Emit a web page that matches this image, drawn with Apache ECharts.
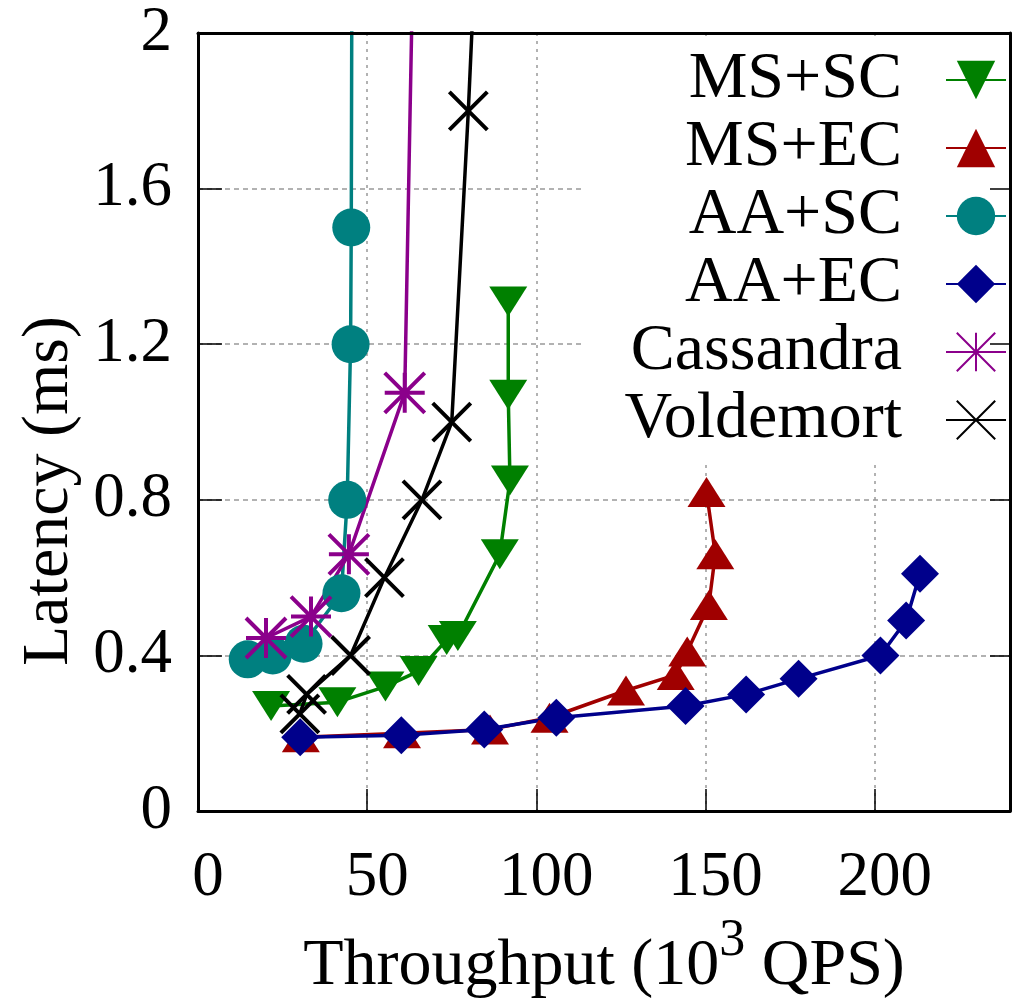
<!DOCTYPE html>
<html lang="en">

<head>
    <meta charset="UTF-8">
    <title>Latency vs Throughput</title>
    <style>
        body { margin: 0; background: #fff; }
    </style>
</head>

<body>
    <div id="main" style="width: 1013px;height:1005px;"></div>
    <script src="https://cdn.jsdelivr.net/npm/echarts@6.0.0/dist/echarts.min.js"></script>
    <script>
        // values: throughput (10^3 QPS) and latency (ms)
        var msScX = [21.6, 41.2, 55.4, 65.2, 73.5, 76.8, 89.2, 92.2, 91.7, 91.7];
        var msScY = [0.27, 0.28, 0.32, 0.36, 0.44, 0.45, 0.66, 0.85, 1.07, 1.31];

        var msEcX = [30.4, 60.3, 86.3, 103.9, 126.5, 141.2, 144.6, 151.0, 152.9, 150.3];
        var msEcY = [0.19, 0.20, 0.21, 0.24, 0.31, 0.35, 0.41, 0.53, 0.66, 0.82];

        var aaScX = [14.7, 22.1, 31.2, 42.4, 44.1, 45.1, 45.3, 45.6];
        var aaScY = [0.39, 0.40, 0.43, 0.56, 0.80, 1.20, 1.50, 2.6];

        var aaEcX = [30.2, 60.1, 84.6, 105.9, 144.1, 162.0, 177.5, 201.7, 209.3, 213.4];
        var aaEcY = [0.19, 0.195, 0.21, 0.24, 0.27, 0.30, 0.34, 0.40, 0.49, 0.61];

        var cassX = [20.1, 33.4, 44.6, 61.1, 64.0];
        var cassY = [0.445, 0.50, 0.66, 1.075, 2.4];

        var voldX = [30.1, 32.1, 45.1, 55.1, 66.2, 75.0, 79.9, 83.0];
        var voldY = [0.25, 0.30, 0.40, 0.60, 0.80, 1.00, 1.80, 2.4];

        var xTicks = [0, 50, 100, 150, 200];
        var yTicks = [0, 0.4, 0.8, 1.2, 1.6, 2];

        var font = "'Liberation Serif', 'Times New Roman', serif";
        var crossPath = 'path://M0,0L10,10M10,0L0,10';
        var starPath = 'path://M5,0L5,10M0,5L10,5M0,0L10,10M10,0L0,10';

        function zip(xs, ys) {
            return xs.map(function (x, i) { return [x, ys[i]]; });
        }

        function makeSeries(name, xs, ys, color, symbol, size, rotate, stroked) {
            return {
                name: name,
                type: 'line',
                data: zip(xs, ys),
                symbol: symbol,
                symbolSize: size,
                symbolRotate: rotate,
                showAllSymbol: true,
                clip: true,
                lineStyle: { color: color, width: 3.5 },
                itemStyle: {
                    color: stroked ? 'transparent' : color,
                    borderColor: color,
                    borderWidth: stroked ? 4 : 0
                },
                emphasis: { disabled: true }
            };
        }

        var myChart = echarts.init(document.getElementById('main'));

        var frameAxis = {
            axisLine: { show: true, onZero: false, lineStyle: { color: '#000', width: 3 } },
            axisLabel: { show: false },
            splitLine: { show: false }
        };

        var option = {
            animation: false,
            grid: { left: 198, right: 1, top: 33, bottom: 192 },
            legend: {
                orient: 'vertical',
                align: 'right',
                right: 3,
                top: 37,
                padding: [9, 3, 10, 42],
                backgroundColor: '#fff',
                itemWidth: 60,
                itemHeight: 48,
                itemGap: 0,
                textStyle: {
                    fontFamily: font, fontSize: 66, color: '#000',
                    lineHeight: 68, padding: [0, 39, 0, 0]
                },
                data: ['MS+SC', 'MS+EC', 'AA+SC', 'AA+EC', 'Cassandra', 'Voldemort']
            },
            xAxis: [{
                type: 'value',
                min: 0, max: 240, interval: 50,
                name: '{a|Throughput (10}{s|3}{a| QPS)}',
                nameLocation: 'middle',
                nameGap: 112,
                nameTextStyle: {
                    rich: {
                        a: { fontFamily: font, fontSize: 66, lineHeight: 66, color: '#000', verticalAlign: 'bottom' },
                        s: { fontFamily: font, fontSize: 52, lineHeight: 52, color: '#000', verticalAlign: 'bottom', padding: [0, 0, 33, 0] }
                    }
                },
                axisLine: { show: true, onZero: false, lineStyle: { color: '#000', width: 3 } },
                axisTick: { show: true, inside: true, length: 22, lineStyle: { color: '#000', width: 1.5 } },
                axisLabel: {
                    fontFamily: font, fontSize: 63, color: '#000', margin: 36,
                    padding: [0, 0, 0, 20],
                    formatter: function (v) { return xTicks.indexOf(v) >= 0 ? String(v) : ''; }
                },
                splitLine: { show: true, showMinLine: false, showMaxLine: false, lineStyle: { color: '#999', width: 1.5, type: [3, 5] } }
            }, Object.assign({
                type: 'value', position: 'top', min: 0, max: 240, z: 10,
                axisTick: { show: false }
            }, frameAxis)],
            yAxis: [{
                type: 'value',
                min: 0, max: 2, interval: 0.4,
                name: 'Latency (ms)',
                nameLocation: 'middle',
                nameGap: 111,
                nameTextStyle: {
                    fontFamily: font, fontSize: 66, color: '#000',
                    padding: [0, 138, 0, 0]
                },
                axisLine: { show: true, onZero: false, lineStyle: { color: '#000', width: 3 } },
                axisTick: { show: true, inside: true, length: 24, lineStyle: { color: '#000', width: 1.5 } },
                axisLabel: {
                    fontFamily: font, fontSize: 63, color: '#000', margin: 26,
                    formatter: function (v) {
                        var r = Math.round(v * 10) / 10;
                        return yTicks.indexOf(r) >= 0 ? String(r) : '';
                    }
                },
                splitLine: { show: true, showMinLine: false, showMaxLine: false, lineStyle: { color: '#999', width: 1.5, type: [5, 4] } }
            }, Object.assign({
                type: 'value', position: 'right', min: 0, max: 2, interval: 0.4, z: 10,
                axisTick: { show: true, inside: true, length: 20, lineStyle: { color: '#000', width: 1.5 } }
            }, frameAxis)],
            series: [
                makeSeries('MS+SC', msScX, msScY, '#008000', 'triangle', [38, 30], 180, false),
                makeSeries('MS+EC', msEcX, msEcY, '#a00000', 'triangle', [38, 30], 0, false),
                makeSeries('AA+SC', aaScX, aaScY, '#008080', 'circle', 38, 0, false),
                makeSeries('AA+EC', aaEcX, aaEcY, '#00008b', 'diamond', [38, 38], 0, false),
                makeSeries('Cassandra', cassX, cassY, '#8b008b', starPath, 40, 0, true),
                makeSeries('Voldemort', voldX, voldY, '#000000', crossPath, 38, 0, true)
            ]
        };

        myChart.setOption(option);
    </script>
</body>

</html>
